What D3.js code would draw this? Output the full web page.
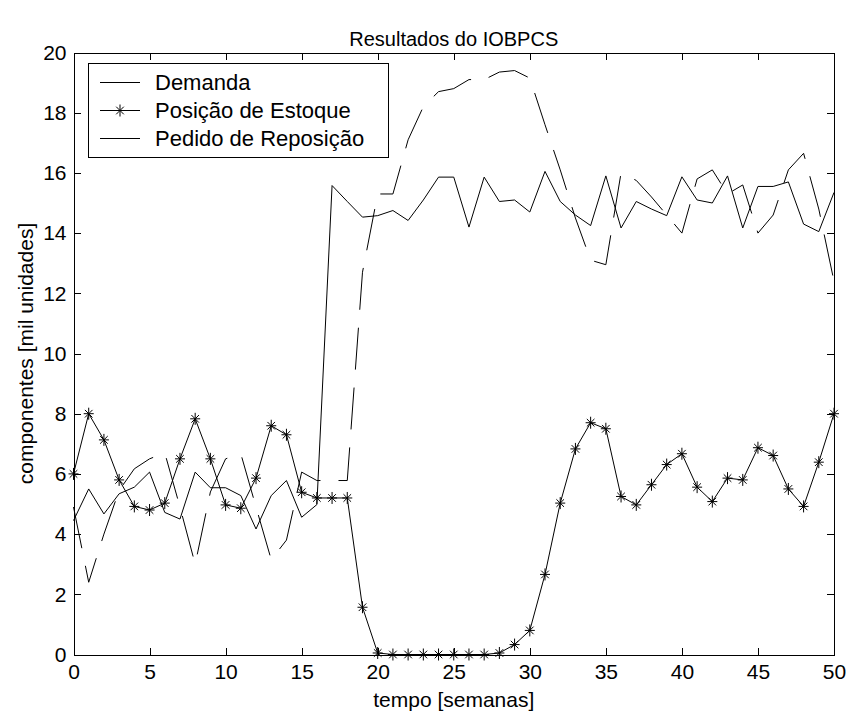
<!DOCTYPE html>
<html>
<head>
<meta charset="utf-8">
<script src="https://cdn.jsdelivr.net/npm/d3@7"></script>
<style>
body { margin: 0; background: #fff; }
text { font-family: "Liberation Sans", Arial, Helvetica, sans-serif; fill: #000; }
</style>
</head>
<body>
<svg width="850" height="713"></svg>
<script>
// dados (mil unidades por semana)
const semanas = [0,1,2,3,4,5,6,7,8,9,10,11,12,13,14,15,16,17,18,19,20,21,22,23,24,25,
    26,27,28,29,30,31,32,33,34,35,36,37,38,39,40,41,42,43,44,45,46,47,48,49,50];
const demanda = [4.45,5.5,4.67,5.34,5.56,6.06,4.72,4.5,6.06,5.54,5.54,5.28,4.17,5.28,5.78,4.56,4.98,
    15.58,15.05,14.53,14.58,14.75,14.42,15.1,15.86,15.86,14.2,15.86,15.05,15.1,14.7,16.05,15.05,
    14.6,14.25,15.9,14.17,15.05,14.8,14.58,15.87,15.1,15.0,15.9,14.17,15.55,15.55,15.7,14.3,14.05,15.35];
const estoque = [6.0,8.0,7.13,5.8,4.92,4.8,5.03,6.5,7.83,6.5,4.97,4.86,5.86,7.6,7.3,5.39,5.2,5.2,5.2,
    1.57,0.05,0,0,0,0,0,0,0,0.05,0.33,0.8,2.66,5.03,6.83,7.7,7.5,5.25,4.97,5.64,6.31,6.67,5.56,5.08,
    5.86,5.8,6.87,6.61,5.5,4.92,6.39,8.0];
const pedido = [4.9,2.4,4.0,5.45,6.17,6.5,6.7,4.9,3.0,5.4,6.5,6.67,4.9,3.15,3.8,6.06,5.78,5.78,5.78,
    12.7,15.3,15.3,17.1,18.2,18.7,18.8,19.1,19.1,19.35,19.4,19.15,17.6,16.1,14.5,13.1,12.95,16.0,
    15.75,15.2,14.6,14.0,15.8,16.1,15.3,15.6,14.0,14.6,16.1,16.65,14.8,12.4];
const xTicks = [0,5,10,15,20,25,30,35,40,45,50];
const yTicks = [0,2,4,6,8,10,12,14,16,18,20];
const legenda = ["Demanda", "Posição de Estoque", "Pedido de Reposição"];

const svg = d3.select("svg");
const width = +svg.attr("width");
const height = +svg.attr("height");
const margin = {left: 73.5, right: 16, top: 52.5, bottom: 58.5};

const x = d3.scaleLinear().domain([0, 50]).range([margin.left, width - margin.right]);
const y = d3.scaleLinear().domain([0, 20]).range([height - margin.bottom, margin.top]);

// eixos com marcas para dentro (estilo matlab)
function estilo(g) {
    g.attr("font-size", 21).attr("font-family", null);
    g.selectAll("path, line").attr("stroke", "#000").attr("shape-rendering", "crispEdges");
}
svg.append("g")
    .attr("transform", `translate(0,${y(0)})`)
    .call(d3.axisBottom(x).tickValues(xTicks).tickSizeInner(-7).tickSizeOuter(0).tickPadding(10))
    .call(estilo);
svg.append("g")
    .attr("transform", `translate(0,${y(20)})`)
    .call(d3.axisTop(x).tickValues(xTicks).tickSizeInner(-7).tickSizeOuter(0).tickFormat(""))
    .call(estilo);
svg.append("g")
    .attr("transform", `translate(${x(0)},0)`)
    .call(d3.axisLeft(y).tickValues(yTicks).tickSizeInner(-7).tickSizeOuter(0).tickPadding(7))
    .call(estilo);
svg.append("g")
    .attr("transform", `translate(${x(50)},0)`)
    .call(d3.axisRight(y).tickValues(yTicks).tickSizeInner(-7).tickSizeOuter(0).tickFormat(""))
    .call(estilo);

const line = d3.line()
    .x((d, i) => x(semanas[i]))
    .y(d => y(d));

svg.append("path")
    .attr("d", line(demanda))
    .attr("fill", "none")
    .attr("stroke", "#000")
    .attr("stroke-width", 1);

svg.append("path")
    .attr("d", line(pedido))
    .attr("fill", "none")
    .attr("stroke", "#000")
    .attr("stroke-width", 1)
    .attr("stroke-dasharray", "42,18");

svg.append("path")
    .attr("d", line(estoque))
    .attr("fill", "none")
    .attr("stroke", "#000")
    .attr("stroke-width", 1);

const estrela = "M-5,0H5M0,-6V6M-3.8,-3.8L3.8,3.8M-3.8,3.8L3.8,-3.8";
svg.append("g").selectAll("path")
    .data(estoque)
    .join("path")
    .attr("transform", (d, i) => `translate(${x(semanas[i])},${y(d)})`)
    .attr("d", estrela)
    .attr("stroke", "#000")
    .attr("stroke-width", 1);

// legenda
const leg = svg.append("g");
leg.append("rect")
    .attr("x", 88.5).attr("y", 63.5)
    .attr("width", 300).attr("height", 94)
    .attr("fill", "#fff").attr("stroke", "#000")
    .attr("shape-rendering", "crispEdges");
const linhasY = [82, 110, 138];
legenda.forEach((nome, i) => {
    leg.append("line")
        .attr("x1", 100).attr("x2", 140)
        .attr("y1", linhasY[i] + 0.5).attr("y2", linhasY[i] + 0.5)
        .attr("stroke", "#000");
    if (i === 1) {
        leg.append("path")
            .attr("transform", `translate(120,${linhasY[i] + 0.5})`)
            .attr("d", estrela)
            .attr("stroke", "#000");
    }
    leg.append("text")
        .attr("x", 155).attr("y", linhasY[i])
        .attr("dy", "0.35em")
        .attr("font-size", 22)
        .text(nome);
});

svg.append("text")
    .attr("x", (x(0) + x(50)) / 2).attr("y", 46)
    .attr("text-anchor", "middle")
    .attr("font-size", 20)
    .text("Resultados do IOBPCS");

svg.append("text")
    .attr("x", (x(0) + x(50)) / 2).attr("y", 707)
    .attr("text-anchor", "middle")
    .attr("font-size", 21)
    .text("tempo [semanas]");

svg.append("text")
    .attr("transform", `translate(33,${(y(0) + y(20)) / 2}) rotate(-90)`)
    .attr("text-anchor", "middle")
    .attr("font-size", 21)
    .text("componentes [mil unidades]");
</script>
</body>
</html>
